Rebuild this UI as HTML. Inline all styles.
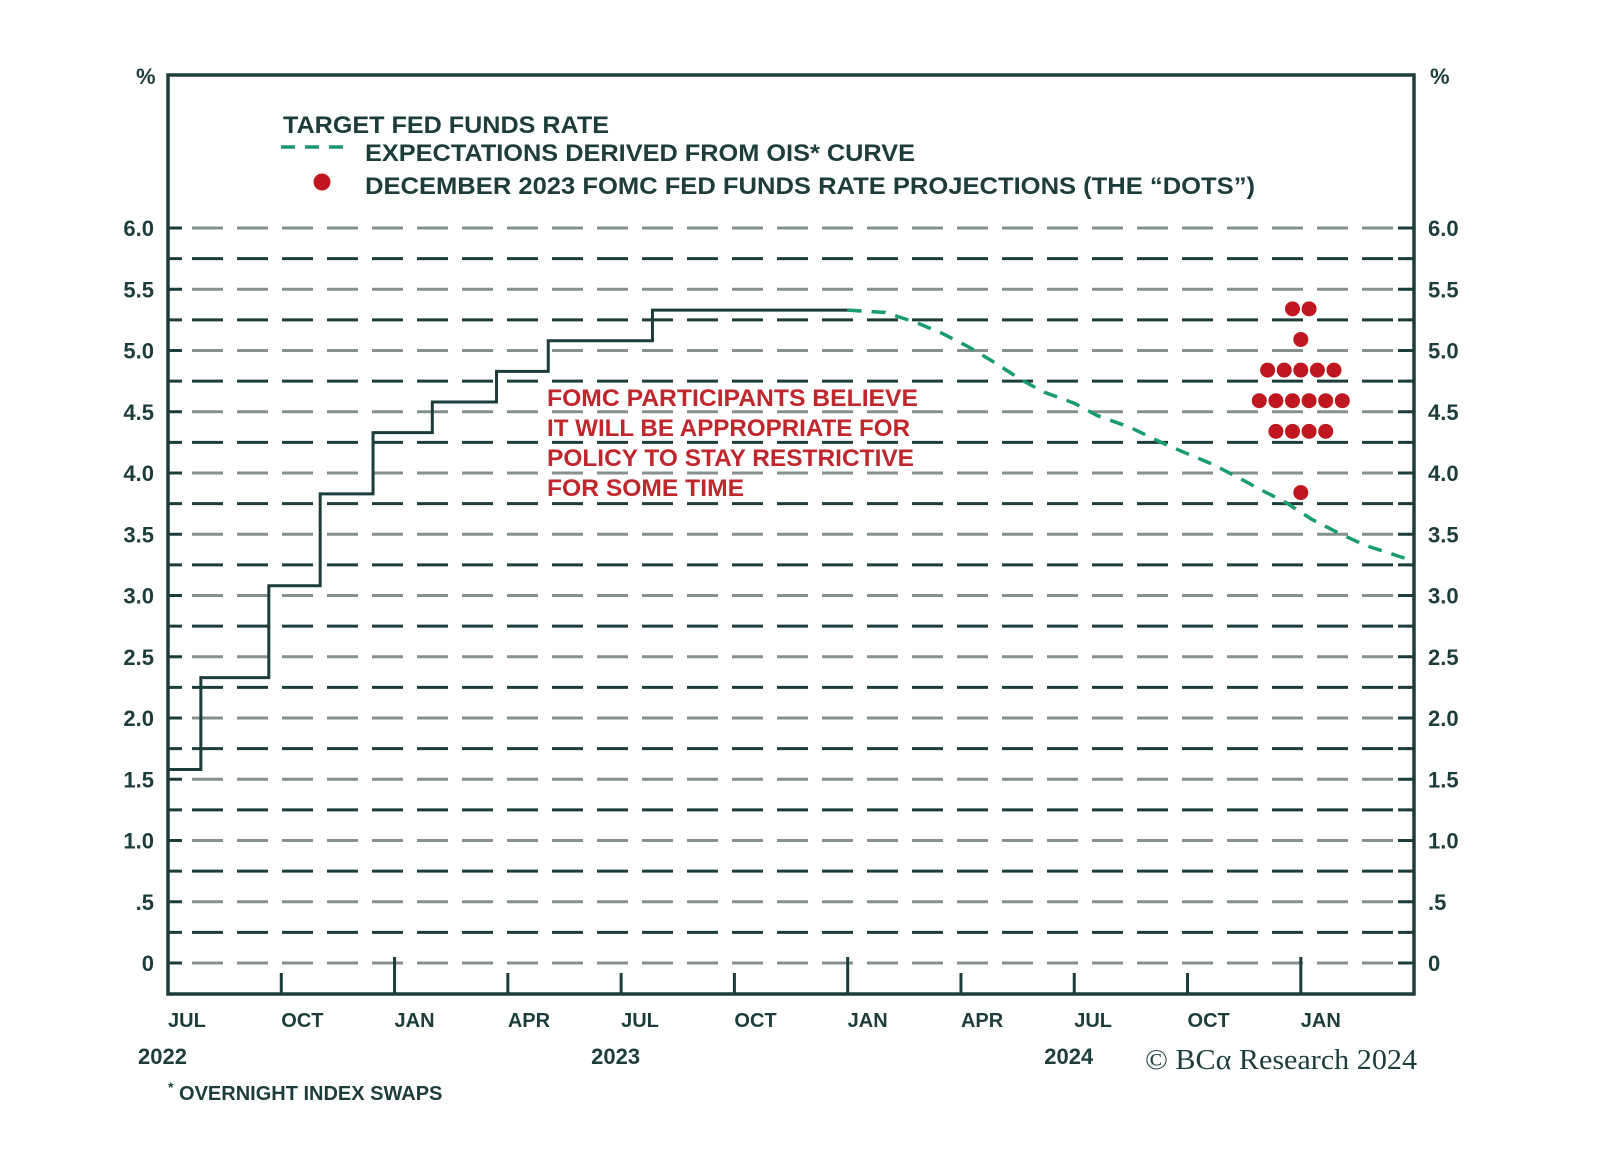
<!DOCTYPE html>
<html><head><meta charset="utf-8">
<style>
html,body{margin:0;padding:0;background:#fff;}
svg{display:block;font-family:"Liberation Sans",sans-serif;}
</style></head>
<body>
<svg id="chart" width="1600" height="1153" viewBox="0 0 1600 1153" xmlns="http://www.w3.org/2000/svg">
  <rect x="0" y="0" width="1600" height="1153" fill="#fff"/>
  <g id="grid"></g>
  <g id="series"></g>
  <g id="axes"></g>
  <g font-weight="bold" fill="#1d3d3b" font-size="24">
    <text x="283" y="133" textLength="326" lengthAdjust="spacingAndGlyphs">TARGET FED FUNDS RATE</text>
    <line x1="281" y1="147" x2="352" y2="147" stroke="#1a9c72" stroke-width="3.5" stroke-dasharray="14,10"/>
    <text x="365" y="161" textLength="550" lengthAdjust="spacingAndGlyphs">EXPECTATIONS DERIVED FROM OIS* CURVE</text>
    <circle cx="322" cy="182" r="8.5" fill="#c0161f"/>
    <text x="365" y="194" textLength="890" lengthAdjust="spacingAndGlyphs">DECEMBER 2023 FOMC FED FUNDS RATE PROJECTIONS (THE “DOTS”)</text>
  </g>
  <g font-weight="bold" fill="#c0272d" font-size="24">
    <text x="547" y="406" textLength="371" lengthAdjust="spacingAndGlyphs">FOMC PARTICIPANTS BELIEVE</text>
    <text x="547" y="436" textLength="363" lengthAdjust="spacingAndGlyphs">IT WILL BE APPROPRIATE FOR</text>
    <text x="547" y="466" textLength="367" lengthAdjust="spacingAndGlyphs">POLICY TO STAY RESTRICTIVE</text>
    <text x="547" y="496" textLength="197" lengthAdjust="spacingAndGlyphs">FOR SOME TIME</text>
  </g>
  <text x="168" y="1100" font-size="20" font-weight="bold" fill="#1d3d3b"><tspan font-size="14" dy="-8">*</tspan><tspan dy="8"> OVERNIGHT INDEX SWAPS</tspan></text>
  <text x="1145" y="1069" font-family="'Liberation Serif',serif" font-size="28" fill="#1d3d3b" textLength="272" lengthAdjust="spacingAndGlyphs">© BCα Research 2024</text>
</svg>
<script>
// ---- data ----
const yTicks = [0, 0.5, 1.0, 1.5, 2.0, 2.5, 3.0, 3.5, 4.0, 4.5, 5.0, 5.5, 6.0];
const yTickLabels = ["0", ".5", "1.0", "1.5", "2.0", "2.5", "3.0", "3.5", "4.0", "4.5", "5.0", "5.5", "6.0"];
const xTickMonths = [0, 3, 6, 9, 12, 15, 18, 21, 24, 27, 30];
const xTickLabels = ["JUL", "OCT", "JAN", "APR", "JUL", "OCT", "JAN", "APR", "JUL", "OCT", "JAN"];
const yearLabels = ["2022", "2023", "2024"];
const yearMonths = [0, 12, 24];
// target rate step changes: month offset from Jul 2022 and level
const stepMonths = [0, 0.87, 2.67, 4.03, 5.43, 7.0, 8.7, 10.07, 12.83, 18.0];
const stepRates = [1.58, 2.33, 3.08, 3.83, 4.33, 4.58, 4.83, 5.08, 5.33, 5.33];
// OIS expectations curve
const oisMonths = [18.0, 19.0, 19.8, 20.5, 21.2, 21.9, 22.6, 23.2, 24.0, 24.6, 25.5, 26.3, 26.9, 27.6, 28.3, 28.9, 29.6, 30.3, 31.0, 31.7, 32.9];
const oisRates = [5.33, 5.31, 5.23, 5.14, 5.03, 4.90, 4.76, 4.66, 4.57, 4.47, 4.37, 4.25, 4.17, 4.08, 3.97, 3.87, 3.76, 3.62, 3.51, 3.41, 3.29];
// FOMC dots: rate levels and participant counts
const dotMonth = 30.0;
const dotRates = [5.34, 5.09, 4.84, 4.59, 4.34, 3.84];
const dotCounts = [2, 1, 5, 6, 4, 1];

// ---- scales ----
const L = 168, R = 1414, T = 75, B = 994;
const x = m => L + m * 37.76;
const y = v => 963 - v * 122.5;
const NS = "http://www.w3.org/2000/svg";
function mk(tag, attrs, parent) {
  const e = document.createElementNS(NS, tag);
  for (const k in attrs) e.setAttribute(k, attrs[k]);
  parent.appendChild(e);
  return e;
}
const grid = document.getElementById('grid');
const axes = document.getElementById('axes');
const series = document.getElementById('series');
const DARK = "#1d3d3b";

for (let i = 0; i <= 24; i++) {
  const v = i * 0.25;
  const g = mk('line', {x1: L + 24, x2: R - 4, y1: y(v), y2: y(v), stroke: (i % 2 === 0) ? "#86918f" : "#1d3d3b", 'stroke-width': 3, 'stroke-dasharray': "31,14"}, grid);
  
  
  const s = mk('line', {x1: L, x2: L + 14, y1: y(v), y2: y(v), stroke: DARK, 'stroke-width': 3}, grid);
  
  
  const e2 = mk('line', {x1: R - 16, x2: R, y1: y(v), y2: y(v), stroke: DARK, 'stroke-width': 3}, grid);
  
  
}

const frame = mk('rect', {x: L, y: T, width: R - L, height: B - T, fill: 'none', stroke: DARK, 'stroke-width': 3.5}, axes);



yTicks.forEach((v, i) => {
  const tl = mk('text', {x: 154, y: y(v) + 8, 'text-anchor': 'end', 'font-size': 22, 'font-weight': 'bold', fill: DARK}, axes);
  tl.textContent = yTickLabels[i];
  
  
  const tr = mk('text', {x: 1428, y: y(v) + 8, 'text-anchor': 'start', 'font-size': 22, 'font-weight': 'bold', fill: DARK}, axes);
  tr.textContent = yTickLabels[i];
  
  
});
const p1 = mk('text', {x: 136, y: 84, 'font-size': 22, 'font-weight': 'bold', fill: DARK}, axes);
p1.textContent = "%";


const p2 = mk('text', {x: 1430, y: 84, 'font-size': 22, 'font-weight': 'bold', fill: DARK}, axes);
p2.textContent = "%";



xTickMonths.forEach((m, i) => {
  const isJan = xTickLabels[i] === "JAN";
  if (m > 0) {
    const t = mk('line', {x1: x(m), x2: x(m), y1: B, y2: isJan ? 957 : 973, stroke: DARK, 'stroke-width': 3}, axes);
    
    
  }
  const lb = mk('text', {x: x(m), y: 1027, 'font-size': 20, 'font-weight': 'bold', fill: DARK}, axes);
  lb.textContent = xTickLabels[i];
  
  
});
yearMonths.forEach((m, i) => {
  const yl = mk('text', {x: x(m) - 30, y: 1064, 'font-size': 22, 'font-weight': 'bold', fill: DARK}, axes);
  yl.textContent = yearLabels[i];
  
  
});

let d = "";
for (let i = 0; i < stepMonths.length; i++) {
  if (i === 0) d += "M" + x(stepMonths[0]) + "," + y(stepRates[0]);
  else d += " L" + x(stepMonths[i]) + "," + y(stepRates[i - 1]) + " L" + x(stepMonths[i]) + "," + y(stepRates[i]);
}
const step = mk('path', {d: d, fill: 'none', stroke: "#1d3d3b", 'stroke-width': 3}, series);



const od = oisMonths.map((m, i) => (i ? "L" : "M") + x(m) + "," + y(oisRates[i])).join(" ");
const ois = mk('path', {d: od, fill: 'none', stroke: "#1a9c72", 'stroke-width': 3.5, 'stroke-dasharray': "14,10"}, series);



dotRates.forEach((r, i) => {
  const n = dotCounts[i];
  for (let k = 0; k < n; k++) {
    const cx = x(dotMonth) + (k - (n - 1) / 2) * 16.6;
    const c = mk('circle', {cx: cx, cy: y(r), r: 7.5, fill: "#c0161f"}, series);
    
    
  }
});
</script>
</body></html>
